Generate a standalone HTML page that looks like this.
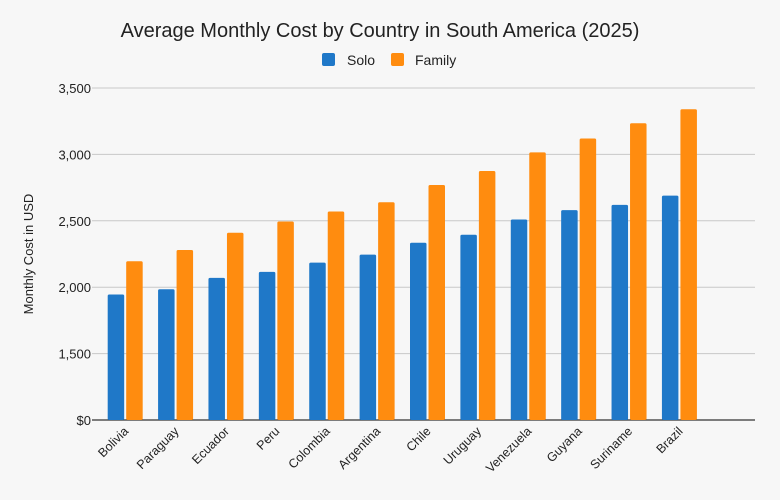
<!DOCTYPE html>
<html><head><meta charset="utf-8"><style>
body{margin:0;background:#f7f7f7;font-family:"Liberation Sans",sans-serif}
svg{display:block}
</style></head><body>
<svg id="chart" width="780" height="500">
<rect width="780" height="500" fill="#f7f7f7"/>
<text x="380" y="37" text-anchor="middle" font-size="20" fill="#222">Average Monthly Cost by Country in South America (2025)</text>
<g>
<g><rect x="322" y="53" width="13" height="13" rx="2" fill="#1f78c8"/><text x="347" y="65" font-size="14" fill="#222">Solo</text></g>
<g><rect x="391" y="53" width="13" height="13" rx="2" fill="#ff8c0f"/><text x="415" y="65" font-size="14" fill="#222">Family</text></g>
</g>
<text transform="translate(33,254) rotate(-90)" text-anchor="middle" font-size="13" fill="#222">Monthly Cost in USD</text>
<g id="grid"></g><g id="bars"></g><g id="xl"></g>
</svg>
<script>
const categories=["Bolivia","Paraguay","Ecuador","Peru","Colombia","Argentina","Chile","Uruguay","Venezuela","Guyana","Suriname","Brazil"];
const solo=[1945,1985,2070,2115,2185,2245,2335,2395,2510,2580,2620,2690];
const family=[2195,2280,2410,2495,2570,2640,2770,2875,3015,3120,3235,3340];
const tickValues=[1000,1500,2000,2500,3000,3500];
const tickLabels=["$0","1,500","2,000","2,500","3,000","3,500"];
const NS="http://www.w3.org/2000/svg";
const L=100,R=755,T=88,B=420,yMin=1000,yMax=3500;
const y=v=>B-(v-yMin)/(yMax-yMin)*(B-T);
const band=(R-L)/(categories.length+1);
const x=i=>L+band*i;
function mk(t,a,p){const e=document.createElementNS(NS,t);for(const k in a)e.setAttribute(k,a[k]);p.appendChild(e);return e;}
const g=document.getElementById('grid');
tickValues.forEach((v,i)=>{
 const ln=mk('line',{x1:L-8,x2:R,y1:y(v),y2:y(v),stroke:i==0?'#333':'#c8c8c8','stroke-width':i==0?1.3:1},g);
 
 
 const t=mk('text',{x:L-9,y:y(v)+5,'text-anchor':'end','font-size':13,fill:'#222'},g);
 t.textContent=tickLabels[i];
 
 
});
const bg=document.getElementById('bars'),xl=document.getElementById('xl');
const bw=16.5,gap=2;
categories.forEach((c,i)=>{
 const cx=x(i)+band/2;
 const b1=mk('rect',{x:cx-gap/2-bw,y:y(solo[i]),width:bw,height:B-y(solo[i]),fill:'#1f78c8',rx:1.5},bg);
 
 
 const b2=mk('rect',{x:cx+gap/2,y:y(family[i]),width:bw,height:B-y(family[i]),fill:'#ff8c0f',rx:1.5},bg);
 
 
 const t=mk('text',{transform:`translate(${cx+4},${B+12}) rotate(-45)`,'text-anchor':'end','font-size':12.5,fill:'#222'},xl);
 t.textContent=c;
 
 
});
</script>
</body></html>
